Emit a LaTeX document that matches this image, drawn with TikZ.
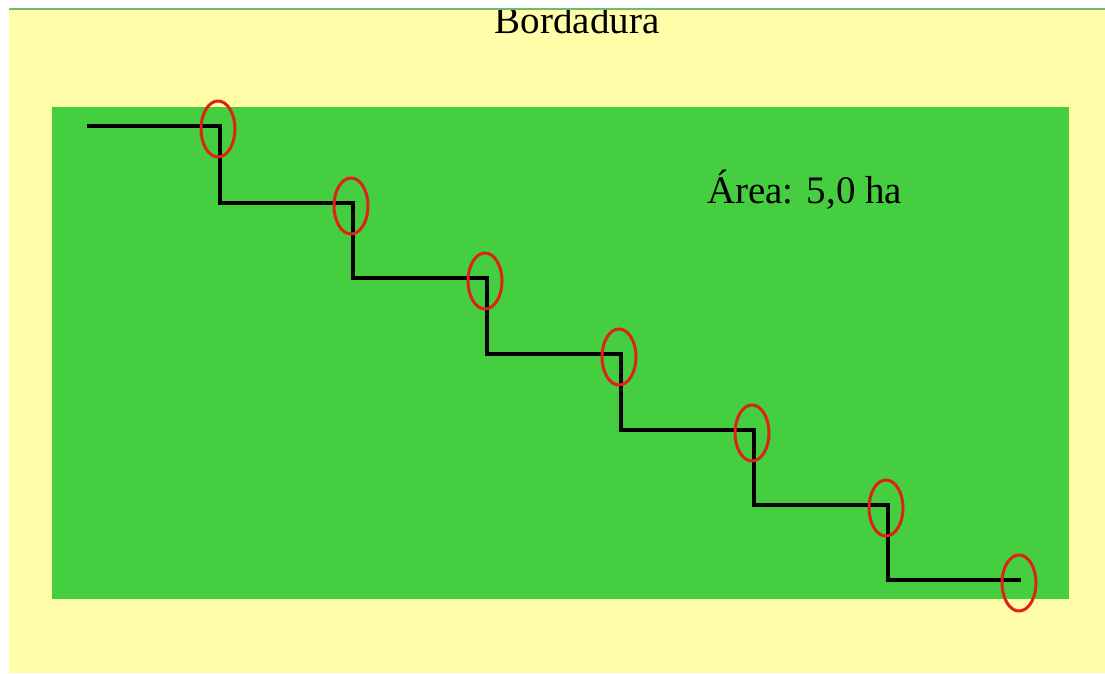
\documentclass[tikz,border=0pt]{standalone}
\usepackage{fontspec}
\setmainfont{Liberation Serif}
\usetikzlibrary{shapes.geometric}
\definecolor{paper}{RGB}{255,253,168}
\definecolor{field}{RGB}{68,206,64}
\definecolor{edgeline}{RGB}{112,186,120}
\definecolor{ringred}{RGB}{222,34,22}
\tikzset{
  ring/.style={ellipse, draw=ringred, line width=3pt, minimum width=34pt, minimum height=56pt, inner sep=0pt},
  stair/.style={draw=black, line width=3.4pt, line join=miter},
  bigtext/.style={font=\fontsize{39}{42}\selectfont, inner sep=0pt}
}
\begin{document}
\begin{tikzpicture}[x=1pt,y=-1pt]
  \useasboundingbox (0,0) rectangle (1105,673);
  \fill[white] (0,0) rectangle (1105,673);
  % border strip and field
  \fill[paper] (9,10) rectangle (1105,673);
  \draw[edgeline, line width=2pt] (9,9) -- (1105,9);
  \fill[field] (52,107) rectangle (1069,599);
  \begin{scope}
    \clip (9,10) rectangle (1105,673);
    \node[bigtext, anchor=base] (title) at (577,33) {Bordadura};
  \end{scope}
  \node[bigtext, anchor=base west] (area) at (707,203) {Área: 5,0 ha};
  % staircase corners
  \coordinate (s0) at (87,126);
  \coordinate (c1) at (220,126);
  \coordinate (d1) at (220,203);
  \coordinate (c2) at (353,203);
  \coordinate (d2) at (353,278);
  \coordinate (c3) at (487,278);
  \coordinate (d3) at (487,354);
  \coordinate (c4) at (621,354);
  \coordinate (d4) at (621,430);
  \coordinate (c5) at (754,430);
  \coordinate (d5) at (754,505);
  \coordinate (c6) at (888,505);
  \coordinate (d6) at (888,580);
  \coordinate (c7) at (1021,580);
  \draw[stair] (s0) -- (c1) -- (d1) -- (c2) -- (d2) -- (c3) -- (d3) -- (c4)
    -- (d4) -- (c5) -- (d5) -- (c6) -- (d6) -- (c7);
  % rings at the corners
  \foreach \c in {c1,c2,c3,c4,c5,c6,c7}
    \node[ring] (r\c) at ([shift={(-2,3)}]\c) {};
\end{tikzpicture}
\end{document}
